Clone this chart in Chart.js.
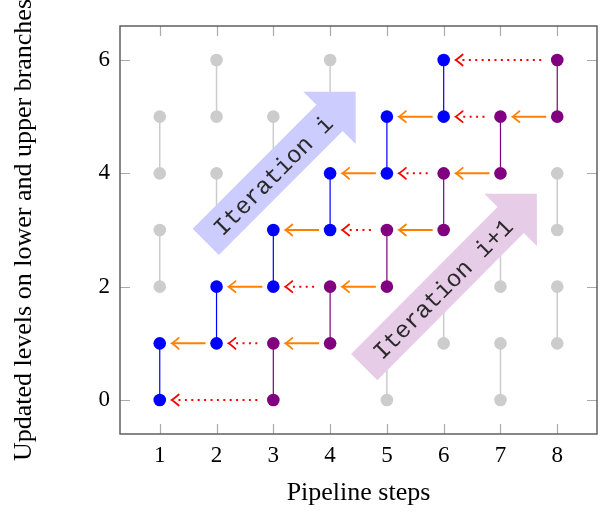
<!DOCTYPE html>
<html>
<head>
<meta charset="utf-8">
<script src="https://cdn.jsdelivr.net/npm/chart.js@4.4.1/dist/chart.umd.min.js"></script>
<style>
  html, body { margin: 0; padding: 0; background: #fff; }
  canvas { display: block; }
</style>
</head>
<body>
<canvas id="chart" width="608" height="514"></canvas>
<script>
const stepTicks = [1, 2, 3, 4, 5, 6, 7, 8];
const levelTicks = [0, 2, 4, 6];

// levels not touched (gray), one lower/upper pair per entry
const grayStep = [1, 1, 2, 2, 3, 4, 5, 6, 7, 7, 8, 8];
const grayLow  = [2, 4, 3, 5, 4, 5, 0, 1, 0, 2, 1, 3];
const grayHigh = [3, 5, 4, 6, 5, 6, 1, 2, 1, 3, 2, 4];

// iteration i
const blueStep = [1, 2, 3, 4, 5, 6];
const blueLow  = [0, 1, 2, 3, 4, 5];
const blueHigh = [1, 2, 3, 4, 5, 6];

// iteration i+1
const purpleStep = [3, 4, 5, 6, 7, 8];
const purpleLow  = [0, 1, 2, 3, 4, 5];
const purpleHigh = [1, 2, 3, 4, 5, 6];

// solid orange arrows (level, from step, to step)
const orangeLevel = [1, 2, 3, 4, 5, 1, 2, 3, 4, 5];
const orangeFrom  = [2, 3, 4, 5, 6, 4, 5, 6, 7, 8];
const orangeTo    = [1, 2, 3, 4, 5, 3, 4, 5, 6, 7];

// dotted red arrows
const redLevel = [0, 1, 2, 3, 4, 5, 6];
const redFrom  = [3, 3, 4, 5, 6, 7, 8];
const redTo    = [1, 2, 3, 4, 5, 6, 6];

// big labelled arrows, tail and tip in axis units
const bandLabels = ['Iteration i', 'Iteration i+1'];
const bandTail = [[1.81, 2.79], [4.60, 0.58]];
const bandTip  = [[4.45, 5.44], [7.64, 3.64]];
const bandFill = ['#ccccff', '#e6cce6'];

const serif = '"Liberation Serif", "Times New Roman", serif';

function pairData(xs, lows, highs) {
    const out = [];
    xs.forEach((x, i) => {
        out.push({x: x, y: lows[i]}, {x: x, y: highs[i]}, {x: x, y: null});
    });
    return out;
}

function pairSet(xs, lows, highs, color, width) {
    return {
        data: pairData(xs, lows, highs),
        showLine: true,
        spanGaps: false,
        borderColor: color,
        borderWidth: width,
        backgroundColor: color,
        pointBackgroundColor: color,
        pointBorderWidth: 0,
        pointRadius: 6.3,
        pointHoverRadius: 6.3,
    };
}

function chevron(ctx, x, y, color) {
    ctx.save();
    ctx.setLineDash([]);
    ctx.strokeStyle = color;
    ctx.lineWidth = 1.8;
    ctx.lineCap = 'round';
    ctx.beginPath();
    ctx.moveTo(x + 7, y - 5.5);
    ctx.quadraticCurveTo(x + 2, y - 1.2, x, y);
    ctx.quadraticCurveTo(x + 2, y + 1.2, x + 7, y + 5.5);
    ctx.stroke();
    ctx.restore();
}

const frameAndTicks = {
    id: 'frameAndTicks',
    beforeDatasetsDraw(chart) {
        const {ctx, chartArea: a, scales: {x, y}} = chart;
        ctx.save();
        ctx.strokeStyle = '#aaaaaa';
        ctx.lineWidth = 1.2;
        ctx.beginPath();
        stepTicks.forEach(v => {
            const px = Math.round(x.getPixelForValue(v)) + 0.5;
            ctx.moveTo(px, a.bottom); ctx.lineTo(px, a.bottom - 10);
            ctx.moveTo(px, a.top); ctx.lineTo(px, a.top + 10);
        });
        levelTicks.forEach(v => {
            const py = Math.round(y.getPixelForValue(v)) + 0.5;
            ctx.moveTo(a.left, py); ctx.lineTo(a.left + 10, py);
            ctx.moveTo(a.right, py); ctx.lineTo(a.right - 10, py);
        });
        ctx.stroke();
        ctx.strokeStyle = '#555555';
        ctx.lineWidth = 1.4;
        ctx.strokeRect(a.left, a.top, a.right - a.left, a.bottom - a.top);
        ctx.restore();
    }
};

const bands = {
    id: 'bands',
    afterDatasetDraw(chart, args) {
        if (args.index !== 2) return;
        const {ctx, scales: {x, y}} = chart;
        const w = 18.5, H = 37, L = 37;
        bandLabels.forEach((label, i) => {
            const x0 = x.getPixelForValue(bandTail[i][0]);
            const y0 = y.getPixelForValue(bandTail[i][1]);
            const x1 = x.getPixelForValue(bandTip[i][0]);
            const y1 = y.getPixelForValue(bandTip[i][1]);
            const len = Math.hypot(x1 - x0, y1 - y0);
            const ang = Math.atan2(y1 - y0, x1 - x0);
            ctx.save();
            ctx.translate(x0, y0);
            ctx.rotate(ang);
            ctx.fillStyle = bandFill[i];
            ctx.beginPath();
            ctx.moveTo(0, -w);
            ctx.lineTo(len - L, -w);
            ctx.lineTo(len - L, -H);
            ctx.lineTo(len, 0);
            ctx.lineTo(len - L, H);
            ctx.lineTo(len - L, w);
            ctx.lineTo(0, w);
            ctx.closePath();
            ctx.fill();
            ctx.fillStyle = '#2a2a2a';
            ctx.font = '24px "Liberation Mono", "DejaVu Sans Mono", monospace';
            ctx.textAlign = 'center';
            ctx.textBaseline = 'middle';
            ctx.fillText(label, (len - L) / 2 + 7, 2);
            ctx.restore();
        });
    }
};

const levelArrows = {
    id: 'levelArrows',
    afterDatasetsDraw(chart) {
        const {ctx, scales: {x, y}} = chart;
        ctx.save();
        ctx.lineWidth = 2;
        ctx.strokeStyle = '#ff8000';
        orangeLevel.forEach((lv, i) => {
            const py = y.getPixelForValue(lv);
            const xs = x.getPixelForValue(orangeFrom[i]) - 11;
            const xt = x.getPixelForValue(orangeTo[i]) + 12;
            ctx.beginPath();
            ctx.moveTo(xs, py); ctx.lineTo(xt + 1, py);
            ctx.stroke();
            chevron(ctx, xt, py, '#ff8000');
        });
        ctx.strokeStyle = '#ff0000';
        redLevel.forEach((lv, i) => {
            const py = y.getPixelForValue(lv);
            const xs = x.getPixelForValue(redFrom[i]) - 16;
            const xt = x.getPixelForValue(redTo[i]) + 12;
            ctx.save();
            ctx.setLineDash([2, 4.4]);
            ctx.beginPath();
            ctx.moveTo(xs, py); ctx.lineTo(xt + 4, py);
            ctx.stroke();
            ctx.restore();
            chevron(ctx, xt, py, '#ff0000');
        });
        ctx.restore();
    }
};

new Chart(document.getElementById('chart'), {
    type: 'scatter',
    data: {
        datasets: [
            pairSet(blueStep, blueLow, blueHigh, '#0000ff', 1.2),
            pairSet(purpleStep, purpleLow, purpleHigh, '#800080', 1.2),
            pairSet(grayStep, grayLow, grayHigh, '#cccccc', 1.5),
        ]
    },
    options: {
        responsive: false,
        animation: false,
        devicePixelRatio: 1,
        layout: { padding: { left: 0, right: 11, top: 26, bottom: 0 } },
        plugins: { legend: { display: false }, tooltip: { enabled: false } },
        scales: {
            x: {
                type: 'linear',
                min: 0.3,
                max: 8.7,
                afterBuildTicks: s => { s.ticks = stepTicks.map(v => ({ value: v })); },
                afterFit: s => { s.height = 80; },
                grid: { display: false, drawTicks: false },
                border: { display: false },
                ticks: { color: '#000', font: { family: serif, size: 23 }, padding: 8, maxRotation: 0, autoSkip: false },
                title: { display: true, text: 'Pipeline steps', color: '#000', font: { family: serif, size: 26 }, padding: { top: 0, bottom: 5 } }
            },
            y: {
                type: 'linear',
                min: -0.6,
                max: 6.6,
                afterBuildTicks: s => { s.ticks = levelTicks.map(v => ({ value: v })); },
                afterFit: s => { s.width = 120; },
                grid: { display: false, drawTicks: false },
                border: { display: false },
                ticks: { color: '#000', font: { family: serif, size: 23 }, padding: 10 },
                title: { display: true, text: 'Updated levels on lower and upper branches', color: '#000', font: { family: serif, size: 26 }, padding: { top: 9, bottom: 0 } }
            }
        }
    },
    plugins: [frameAndTicks, bands, levelArrows]
});
</script>
</body>
</html>
